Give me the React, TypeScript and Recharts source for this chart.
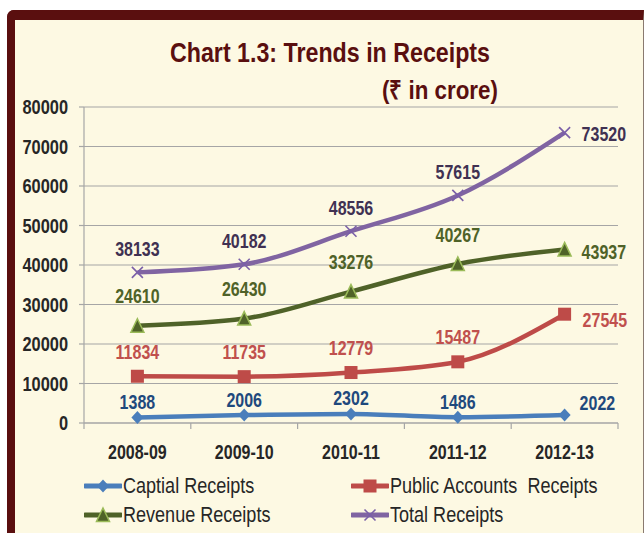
import React from 'react';
import { LineChart, Line, XAxis, YAxis, CartesianGrid, LabelList } from 'recharts';

const categories = ['2008-09', '2009-10', '2010-11', '2011-12', '2012-13'];
const capitalReceipts = [1388, 2006, 2302, 1486, 2022];
const publicAccountsReceipts = [11834, 11735, 12779, 15487, 27545];
const revenueReceipts = [24610, 26430, 33276, 40267, 43937];
const totalReceipts = [38133, 40182, 48556, 57615, 73520];
const yTicks = [0, 10000, 20000, 30000, 40000, 50000, 60000, 70000, 80000];
const seriesNames = ['Captial Receipts', 'Public Accounts  Receipts', 'Revenue Receipts', 'Total Receipts'];

const data = categories.map((c, i) => ({
  pos: i + 0.5,
  cat: c,
  capital: capitalReceipts[i],
  publicAcc: publicAccountsReceipts[i],
  revenue: revenueReceipts[i],
  total: totalReceipts[i],
}));

const xTicks: number[] = [];
for (let i = 0; i <= categories.length * 2; i++) xTicks.push(i / 2);

const FONT = '"Liberation Sans", Arial, sans-serif';
const NARROW = 0.82;
const AXIS = '#A6A6A6';
const TEXT = '#262626';

const NText = ({ x, y, anchor, fill, size, children }: any) => (
  <text transform={`translate(${x},${y}) scale(${NARROW},1)`} x={0} y={0} textAnchor={anchor}
    dominantBaseline="central" fill={fill} fontFamily={FONT} fontSize={size} fontWeight="bold">
    {children}
  </text>
);

const XTick = (props: any) => {
  const { x, y, payload } = props;
  const v = payload.value;
  if (Number.isInteger(v)) {
    return <line x1={x} y1={y} x2={x} y2={y + 6} stroke={AXIS} strokeWidth={1.2} />;
  }
  return <NText x={x} y={y + 29} anchor="middle" fill={TEXT} size={19.5}>{categories[Math.floor(v)]}</NText>;
};

const YTick = (props: any) => {
  const { x, y, payload } = props;
  return <NText x={x} y={y} anchor="end" fill={TEXT} size={20}>{payload.value}</NText>;
};

const Diamond = ({ cx, cy, fill }: any) => (
  <polygon points={`${cx},${cy - 6.5} ${cx + 6},${cy} ${cx},${cy + 6.5} ${cx - 6},${cy}`} fill={fill} />
);
const Square = ({ cx, cy, fill }: any) => (
  <rect x={cx - 6.5} y={cy - 6.5} width={13} height={13} fill={fill} />
);
const Triangle = ({ cx, cy, fill, stroke }: any) => (
  <polygon points={`${cx},${cy - 7} ${cx + 6.5},${cy + 6.5} ${cx - 6.5},${cy + 6.5}`} fill={fill} stroke={stroke} strokeWidth={1.5} />
);
const Cross = ({ cx, cy, stroke }: any) => (
  <g stroke={stroke} strokeWidth={1.6}>
    <line x1={cx - 5.5} y1={cy - 5.5} x2={cx + 5.5} y2={cy + 5.5} />
    <line x1={cx - 5.5} y1={cy + 5.5} x2={cx + 5.5} y2={cy - 5.5} />
  </g>
);

const series = [
  { key: 'capital', name: seriesNames[0], color: '#4A7EBB', labelColor: '#1F497D', above: 15, rightDy: -12, rightDx: 15,
    marker: (p: any) => <Diamond {...p} fill="#4A7EBB" /> },
  { key: 'publicAcc', name: seriesNames[1], color: '#BE4B48', labelColor: '#C0504D', above: 24, rightDy: 6, rightDx: 18,
    marker: (p: any) => <Square {...p} fill="#BE4B48" /> },
  { key: 'revenue', name: seriesNames[2], color: '#4F6228', labelColor: '#4F6228', above: 29, rightDy: 3, rightDx: 17,
    marker: (p: any) => <Triangle {...p} fill="#4F6228" stroke="#9BBB59" /> },
  { key: 'total', name: seriesNames[3], color: '#8064A2', labelColor: '#403152', above: 23, rightDy: 2, rightDx: 17,
    marker: (p: any) => <Cross {...p} stroke="#7A5FA8" /> },
];

const makeLabel = (s: any) => (props: any) => {
  const { x, y, value, index } = props;
  const last = index === categories.length - 1;
  return (
    <NText x={last ? x + s.rightDx : x} y={last ? y + s.rightDy : y - s.above}
      anchor={last ? 'start' : 'middle'} fill={s.labelColor} size={19.5}>
      {value}
    </NText>
  );
};

const LegendItem = ({ s, left, top }: any) => (
  <div style={{ position: 'absolute', left, top, height: 24, display: 'flex', alignItems: 'center', whiteSpace: 'pre' }}>
    <svg width={38} height={24} style={{ display: 'block' }}>
      <line x1={1} y1={12} x2={37} y2={12} stroke={s.color} strokeWidth={5} strokeLinecap="round" />
      {s.marker({ cx: 19, cy: 12 })}
    </svg>
    <span style={{ display: 'inline-block', fontFamily: FONT, fontSize: 22, color: TEXT, marginLeft: 1, lineHeight: '24px',
      whiteSpace: 'pre', transform: `scaleX(${NARROW})`, transformOrigin: 'left center' }}>{s.name}</span>
  </div>
);

export default function App() {
  return (
    <div style={{ position: 'absolute', left: 0, top: 0, width: 644, height: 533, background: '#FFFFFF', overflow: 'hidden' }}>
      <div style={{
        position: 'absolute', left: 7, top: 10, width: 644 - 7 - 8.5 - 1, height: 533,
        background: '#FDF9E3', borderLeft: '8.5px solid #5A0F0F', borderTop: '10px solid #5A0F0F',
        borderRight: '1px solid #8A7A70', borderTopLeftRadius: 7,
      }} />
      <div style={{ position: 'absolute', left: 0, top: 0 }}>
        <LineChart width={644} height={533} data={data} margin={{ top: 107, right: 26, left: 0, bottom: 70 }}>
          <CartesianGrid vertical={false} stroke={AXIS} strokeWidth={1.2} />
          <XAxis dataKey="pos" type="number" domain={[0, categories.length]} ticks={xTicks} interval={0}
            tickLine={false} tickSize={0} tickMargin={0} height={40}
            axisLine={{ stroke: AXIS, strokeWidth: 1.2 }} tick={<XTick />} />
          <YAxis domain={[0, 80000]} ticks={yTicks} interval={0} width={84} tickSize={5} tickMargin={11}
            axisLine={{ stroke: AXIS, strokeWidth: 1.2 }} tickLine={{ stroke: AXIS, strokeWidth: 1.2 }}
            tick={<YTick />} />
          {series.map((s) => (
            <Line key={s.key} dataKey={s.key} name={s.name} type="monotone" stroke={s.color} strokeWidth={4.5}
              dot={(p: any) => <g key={`${s.key}-${p.index}`}>{s.marker(p)}</g>} activeDot={false}
              isAnimationActive={false}>
              <LabelList dataKey={s.key} content={makeLabel(s)} />
            </Line>
          ))}
        </LineChart>
      </div>
      <div style={{ position: 'absolute', left: 329.5, top: 39, transform: 'translateX(-50%) scaleX(0.86)', whiteSpace: 'nowrap',
        fontFamily: FONT, fontWeight: 'bold', fontSize: 27, lineHeight: '28px', color: '#5A0F0F' }}>
        Chart 1.3: Trends in Receipts
      </div>
      <div style={{ position: 'absolute', right: 644 - 498, top: 76, transform: 'scaleX(0.86)', transformOrigin: 'right center',
        whiteSpace: 'nowrap', fontFamily: FONT, fontWeight: 'bold', fontSize: 26, lineHeight: '28px', color: '#5A0F0F' }}>
        (₹ in crore)
      </div>
      <LegendItem s={series[0]} left={84} top={474} />
      <LegendItem s={series[1]} left={351} top={474} />
      <LegendItem s={series[2]} left={84} top={503} />
      <LegendItem s={series[3]} left={351} top={503} />
    </div>
  );
}
